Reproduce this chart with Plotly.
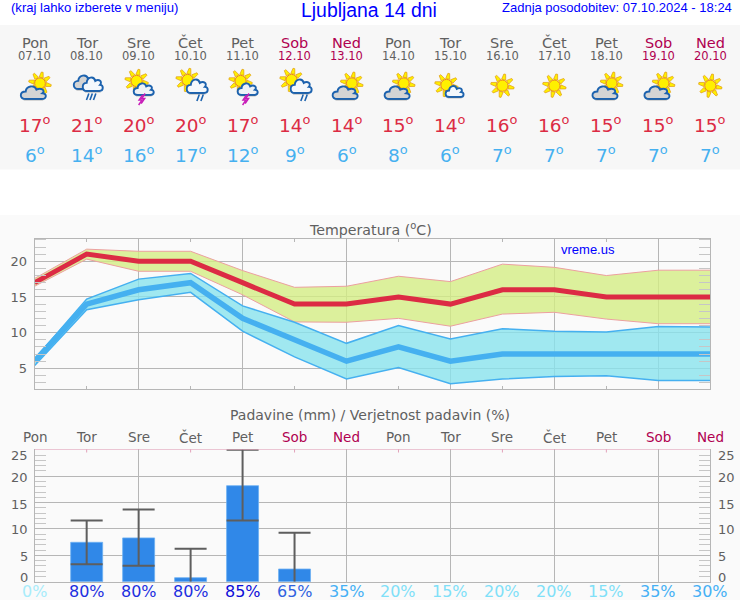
import math
import plotly.graph_objects as go

days = ["Pon","Tor","Sre","Čet","Pet","Sob","Ned","Pon","Tor","Sre","Čet","Pet","Sob","Ned"]
dates = ["07.10","08.10","09.10","10.10","11.10","12.10","13.10","14.10","15.10","16.10","17.10","18.10","19.10","20.10"]
icons = ["A","B","C","D","C","D","A","A","E","F","F","A","A","F"]
tmax = [17,21,20,20,17,14,14,15,14,16,16,15,15,15]
tmin = [6,14,16,17,12,9,6,8,6,7,7,7,7,7]
tmax_hi = [17.6,21.7,21.4,21.4,18.7,16.35,16.5,17.9,17.15,19.6,19.15,18.0,18.75,18.75]
tmax_lo = [16.5,20.3,18.6,18.6,15.3,11.5,11.45,12.0,10.9,12.6,12.85,11.9,11.25,11.25]
tmin_hi = [6.3,14.7,17.5,18.3,13.75,11.45,8.5,11.0,9.1,10.55,10.2,10.1,10.85,10.8]
tmin_lo = [5.4,13.2,14.6,15.65,10.2,6.6,3.5,5.1,2.85,3.5,3.85,3.95,3.3,3.3]
rain_x = [1,2,3,4,5]
rain = [7.47,8.3,0.76,18.2,2.4]
rain_hi = [11.6,13.7,6.27,25.0,9.3]
rain_lo = [3.3,3.04,0,11.6,0]
prob = [0,80,80,80,85,65,35,20,15,20,20,15,35,30]
prob_colors = ["#a8ecfa","#1c2fe0","#1c2fe0","#1c2fe0","#0c0cd8","#2f62e0","#45b0f5","#7fe0f8","#7fe0f8","#7fe0f8","#7fe0f8","#7fe0f8","#45b0f5","#45b0f5"]
y_ticks2 = [0,5,10,15,20,25]
y_shift2 = [4,-1.5,-1,-1.5,-1,-6]

GRAY = "#606060"; WEEKEND = "#b00050"; BLUE = "#0000ff"; RED = "#dc2b44"; SKY = "#45b0f0"
GRID = "#b6b6b6"
W, H = 740, 600
X = lambda p: p / W
Y = lambda p: 1 - p / H
L, R = 34.7, 710.3
day_col = [WEEKEND if d in ("Sob", "Ned") else GRAY for d in days]

fig = go.Figure()
fig.add_trace(go.Scatter(x=list(range(14)), y=tmax_lo, mode="lines", line=dict(color="#eca0a0", width=1)))
fig.add_trace(go.Scatter(x=list(range(14)), y=tmax_hi, mode="lines", line=dict(color="#eca0a0", width=1), fill="tonexty", fillcolor="rgba(212,237,132,0.8)"))
fig.add_trace(go.Scatter(x=list(range(14)), y=tmin_lo, mode="lines", line=dict(color=SKY, width=1.5)))
fig.add_trace(go.Scatter(x=list(range(14)), y=tmin_hi, mode="lines", line=dict(color=SKY, width=1.5), fill="tonexty", fillcolor="rgba(137,228,238,0.8)"))
fig.add_trace(go.Scatter(x=list(range(14)), y=tmin, mode="lines", line=dict(color=SKY, width=5.5), cliponaxis=False))
fig.add_trace(go.Scatter(x=list(range(14)), y=tmax, mode="lines", line=dict(color=RED, width=5), cliponaxis=False))

fig.add_trace(go.Bar(x=rain_x, y=rain, width=0.615, marker=dict(color="#3088e8", line=dict(color="#6cb0f2", width=0.8)), xaxis="x2", yaxis="y2"))
stem = [h - l for h, l in zip(rain_hi, rain_lo)]
fig.add_trace(go.Scatter(x=rain_x, y=rain_hi, mode="markers", marker=dict(size=1, opacity=0), xaxis="x2", yaxis="y2", cliponaxis=False,
    error_y=dict(type="data", symmetric=False, array=[0]*5, arrayminus=stem, width=0, color="#5e5e5e", thickness=2)))
cap_x = rain_x + [x for x, l in zip(rain_x, rain_lo) if l > 0]
cap_y = rain_hi + [l for l in rain_lo if l > 0]
fig.add_trace(go.Scatter(x=cap_x, y=cap_y, mode="markers", marker=dict(size=1, opacity=0), xaxis="x2", yaxis="y2", cliponaxis=False,
    error_y=dict(type="data", array=[0]*len(cap_x), width=16, color="#5e5e5e", thickness=2)))

ann = []
def txt(x, y, s, size, color, fam="DejaVu Sans", xref="paper", anchor="center"):
    ann.append(dict(x=x if xref != "paper" else X(x), y=Y(y), xref=xref, yref="paper", text=s, showarrow=False,
                    font=dict(size=size, color=color, family=fam), xanchor=anchor, yanchor="middle", borderpad=0, borderwidth=0))

LIB = "Liberation Sans"
txt(11, 8, "(kraj lahko izberete v meniju)", 13.1, BLUE, LIB, anchor="left")
txt(369, 10.5, "Ljubljana 14 dni", 19.4, BLUE, LIB)
txt(732, 8, "Zadnja posodobitev: 07.10.2024 - 18:24", 13, BLUE, LIB, anchor="right")
txt(370, 228.5, "Temperatura (<sup>o</sup>C)", 14.2, GRAY)
txt(370, 415, "Padavine (mm) / Verjetnost padavin (%)", 14, GRAY)
txt(561, 249, "vreme.us", 13, BLUE, LIB, anchor="left")
deg = '<sup>o</sup>'
for i in range(14):
    txt(i, 43, days[i], 14.5, day_col[i], xref="x")
    txt(i, 55.5, dates[i], 11.5, day_col[i], xref="x")
    txt(i, 124, f"{tmax[i]}{deg}", 18.5, RED, xref="x")
    txt(i, 154, f"{tmin[i]}{deg}", 18.5, SKY, xref="x")
    txt(i, 437, days[i], 13.5, day_col[i], xref="x2")
    txt(i, 591.5, f"{prob[i]}%", 16, prob_colors[i], xref="x2")
for v, s in zip(y_ticks2, y_shift2):
    for xp, anc in ((29.5, "right"), (716, "left")):
        ann.append(dict(x=X(xp), y=v, xref="paper", yref="y2", yshift=s, text=str(v), showarrow=False, xanchor=anc, yanchor="middle",
                        font=dict(size=13, color=GRAY, family="DejaVu Sans")))

shapes = []
def rect(x0, y0, x1, y1, c):
    shapes.append(dict(type="rect", xref="paper", yref="paper", x0=X(x0), x1=X(x1), y0=Y(y1), y1=Y(y0), fillcolor=c, line=dict(width=0), layer="below"))
rect(0, 215, 740, 600, "#fafafa")
rect(0, 25, 740, 169.5, "#f7f7f7")
shapes.append(dict(type="line", xref="x2", yref="y2", x0=0, x1=13, y0=25.1, y1=25.1, line=dict(color="#e2a2ba", width=1)))
for i in range(1, 13, 2):
    shapes.append(dict(type="line", xref="x2", yref="paper", x0=i, x1=i, y0=Y(452.5), y1=Y(449.3), line=dict(color="#e2a2ba", width=1)))

def path(cmds, fill, stroke, lw):
    d = ""
    for c in cmds:
        if c[0] == "Z":
            d += "Z"
        else:
            d += c[0] + " ".join(f"{X(c[i]):.5f},{Y(c[i+1]):.5f}" for i in range(1, len(c), 2))
    shapes.append(dict(type="path", xref="paper", yref="paper", path=d, fillcolor=fill, line=dict(color=stroke, width=lw)))

def sun(cx, cy, r=5.8):
    for k in range(8):
        a = k * math.pi / 4 + 0.2
        ca, sa = math.cos(a), math.sin(a)
        r0, r1, t = r * 1.1, r * 2.1, 2.1
        path([("M", cx + r0*ca - t*sa, cy + r0*sa + t*ca), ("L", cx + r1*ca - 0.9*sa, cy + r1*sa + 0.9*ca),
              ("L", cx + r1*ca + 0.9*sa, cy + r1*sa - 0.9*ca), ("L", cx + r0*ca + t*sa, cy + r0*sa - t*ca), ("Z",)], "#fff000", "#e09a10", 0.7)
    shapes.append(dict(type="circle", xref="paper", yref="paper", x0=X(cx-r), x1=X(cx+r), y0=Y(cy+r), y1=Y(cy-r), fillcolor="#fff000", line=dict(color="#ec8a10", width=1)))

def cloud(x0, x1, y0, y1, fill, stroke="#1c62ae", lw=1.9):
    w, h = x1 - x0, y1 - y0
    P = lambda a, b: (x0 + a*w, y0 + b*h)
    c = lambda *pts: [v for p in pts for v in P(*p)]
    path([("M", *P(.2, 1)),
          ("C", *c((-.06, 1), (-.06, .42), (.2, .42))),
          ("C", *c((.22, 0), (.55, -.12), (.63, .28))),
          ("C", *c((.82, .1), (1.0, .35), (.87, .56))),
          ("C", *c((1.06, .58), (1.05, 1), (.84, 1))),
          ("Z",)], fill, stroke, lw)
    path([("M", *P(.12, 1.09)), ("L", *P(.9, 1.09))], "rgba(0,0,0,0)", "rgba(120,120,120,0.35)", 1.2)

def drops(cx, xs, y0, y1):
    for x in xs:
        path([("M", cx + x + 1.2, y0), ("L", cx + x - 1.2, y1)], "rgba(0,0,0,0)", "#1c62ae", 1.6)

def bolt(cx, cy):
    path([("M", cx + 2, cy - 5), ("L", cx - 1.5, cy), ("L", cx + 1.5, cy), ("L", cx - 2, cy + 5)], "rgba(0,0,0,0)", "#c81cb8", 1.5)

def icon(kind, cx, cy=87):
    if kind == "A":
        sun(cx + 5.3, cy - 3.7, 5.4); cloud(cx - 14, cx + 11, cy - 1, cy + 12, "#d4d4d4")
    elif kind == "B":
        cloud(cx - 13, cx + 10, cy - 12, cy + 2, "#d4d4d4"); cloud(cx - 4, cx + 16, cy - 10, cy + 4, "#f4f8fc"); drops(cx, [1, 4.5, 8], cy + 6.5, cy + 13)
    elif kind == "C":
        sun(cx - 2, cy - 6, 5.6); cloud(cx - 5, cx + 15, cy - 4, cy + 8, "#eef2f6"); bolt(cx + 4.5, cy + 11.5); bolt(cx + 2, cy + 13)
    elif kind == "D":
        sun(cx - 3, cy - 7, 5.6); cloud(cx - 4, cx + 17, cy - 8, cy + 6, "#f4f8fc"); drops(cx, [7.5, 11.5], cy + 7.5, cy + 14)
    elif kind == "E":
        sun(cx - 4, cy - 2, 5.6); cloud(cx - 5, cx + 13, cy - 1.3, cy + 10, "#f4f8fc")
    else:
        sun(cx, cy - 1.3, 5.6)

for i, k in enumerate(icons):
    icon(k, L + i * (R - L) / 13)

xcommon = dict(range=[0, 13], showticklabels=False, tick0=0, dtick=2, ticks="", showgrid=True, gridcolor=GRID, gridwidth=1,
               showline=True, linecolor=GRID, linewidth=1, zeroline=False, domain=[X(L), X(R)], fixedrange=True)
ycommon = dict(showgrid=True, gridcolor=GRID, gridwidth=1, tick0=0, dtick=5, showline=True, linecolor=GRID, linewidth=1, zeroline=False,
               mirror="ticks", ticks="", fixedrange=True,
               minor=dict(ticks="inside", ticklen=11, dtick=1, tick0=0, tickcolor="#c6c6c6", tickwidth=1, showgrid=False))
fig.update_layout(
    width=W, height=H, margin=dict(l=0, r=0, t=0, b=0), paper_bgcolor="#ffffff", plot_bgcolor="#fafafa",
    showlegend=False, barmode="overlay", autosize=False,
    font=dict(family="DejaVu Sans", color=GRAY, size=13),
    xaxis=dict(**xcommon, anchor="y", mirror="ticks", minor=dict(ticks="inside", ticklen=3, dtick=1, tick0=0, tickcolor=GRID, showgrid=False)),
    yaxis=dict(**ycommon, anchor="x", domain=[Y(389), Y(239.3)], range=[2.1, 23.08], showticklabels=True, tickfont=dict(size=13, color=GRAY), ticklabelstandoff=4),
    xaxis2=dict(**xcommon, anchor="y2", mirror=False),
    yaxis2=dict(**ycommon, anchor="x2", domain=[Y(581.7), Y(449.3)], range=[0, 25.1], showticklabels=False),
    annotations=ann, shapes=shapes,
)
fig.write_html("out.html", config={"displayModeBar": False},
               post_script="document.body.style.margin='0';document.body.style.overflow='hidden';")
